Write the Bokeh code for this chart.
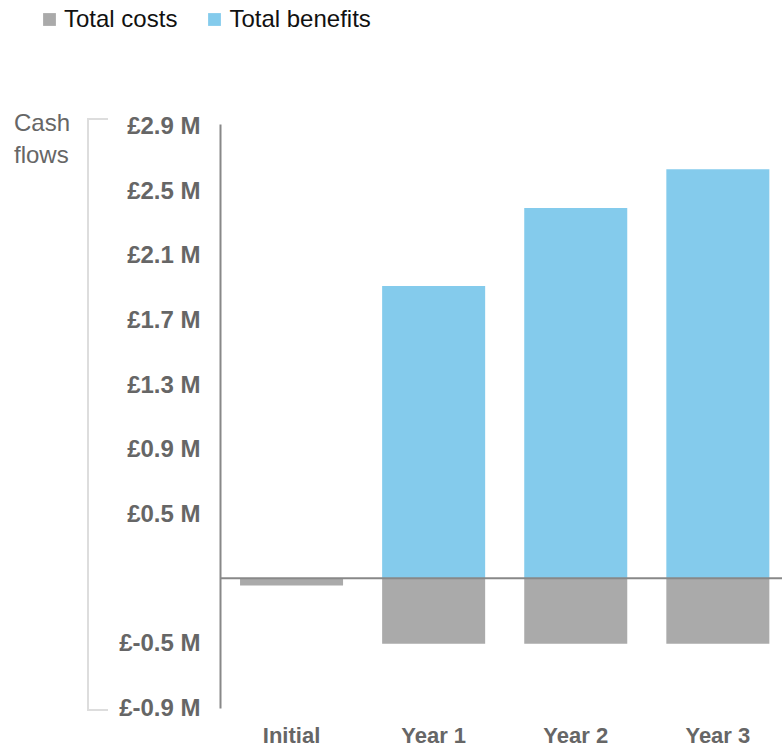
from bokeh.plotting import figure
from bokeh.layouts import column, row
from bokeh.models import (Range1d, FixedTicker, Span, Legend, LegendItem,
                          ColumnDataSource, Div)
from bokeh.embed import file_html
from bokeh.resources import INLINE

# ---- data ----
categories = ["Initial", "Year 1", "Year 2", "Year 3"]
total_costs = [-0.046, -0.415, -0.415, -0.415]
total_benefits = [0.0, 1.852, 2.346, 2.591]
y_tick_values = [-0.82, -0.41, 0.41, 0.82, 1.23, 1.64, 2.05, 2.46, 2.87]
y_tick_labels = ["£-0.9 M", "£-0.5 M", "£0.5 M", "£0.9 M", "£1.3 M",
                 "£1.7 M", "£2.1 M", "£2.5 M", "£2.9 M"]
series_names = ["Total costs", "Total benefits"]
axis_title_lines = ["Cash", "flows"]

# ---- styles ----
FONT = "Liberation Sans"
COST_COLOR = "#AAAAAA"
BEN_COLOR = "#84CBEC"
AXIS_GRAY = "#888888"
TEXT_GRAY = "#666666"
BRACKET_GRAY = "#DDDDDD"
BAR_W = 0.725

x_pos = [i + 0.5 for i in range(len(categories))]
source = ColumnDataSource(dict(x=x_pos, cat=categories,
                               costs=total_costs, benefits=total_benefits))

# ---------------- main chart ----------------
X_END = 3.955
Y_START, Y_END = -0.825, 2.875
p = figure(width=670, height=650,
           x_range=Range1d(0, X_END), y_range=Range1d(Y_START, Y_END),
           output_backend="svg", toolbar_location=None,
           min_border_left=108, min_border_right=0,
           min_border_top=24, min_border_bottom=42)
p.outline_line_color = None
p.grid.visible = False

r_cost = p.vbar(x="x", width=BAR_W, top=0, bottom="costs", source=source,
                fill_color=COST_COLOR, line_color=None)
r_ben = p.vbar(x="x", width=BAR_W, bottom=0, top="benefits", source=source,
               fill_color=BEN_COLOR, line_color=None)

p.add_layout(Span(location=0, dimension="width", line_color=AXIS_GRAY,
                  line_width=2))

ya = p.yaxis[0]
ya.ticker = FixedTicker(ticks=y_tick_values)
ya.major_label_overrides = {v: t for v, t in zip(y_tick_values, y_tick_labels)}
ya.axis_line_color = AXIS_GRAY
ya.axis_line_width = 2
ya.major_tick_line_color = None
ya.minor_tick_line_color = None
ya.major_tick_out = 0
ya.major_tick_in = 0
ya.major_label_standoff = 20
ya.major_label_text_font = FONT
ya.major_label_text_font_size = "24px"
ya.major_label_text_font_style = "bold"
ya.major_label_text_color = TEXT_GRAY

xa = p.xaxis[0]
xa.ticker = FixedTicker(ticks=x_pos)
xa.major_label_overrides = {v: c for v, c in zip(x_pos, categories)}
xa.axis_line_color = None
xa.major_tick_line_color = None
xa.minor_tick_line_color = None
xa.major_tick_out = 0
xa.major_tick_in = 0
xa.major_label_standoff = 14
xa.major_label_text_font = FONT
xa.major_label_text_font_size = "22px"
xa.major_label_text_font_style = "bold"
xa.major_label_text_color = TEXT_GRAY

# ---------------- left strip: axis title + bracket ----------------
left_html = (
    f'<div style="position:relative;width:112px;height:650px;'
    f'font-family:\'{FONT}\';">'
    f'<div style="position:absolute;left:14px;top:7px;font-size:24px;'
    f'line-height:32px;color:{TEXT_GRAY};white-space:nowrap;">'
    f'{axis_title_lines[0]}<br>{axis_title_lines[1]}</div>'
    f'<div style="position:absolute;left:87px;top:18.3px;width:21px;'
    f'height:592.7px;box-sizing:border-box;border:2px solid {BRACKET_GRAY};'
    f'border-right:none;"></div>'
    f'</div>'
)
left = Div(text=left_html, width=112, height=650, margin=0)

# ---------------- top strip: legend ----------------
top = figure(width=782, height=100, x_range=Range1d(100, 101),
             y_range=Range1d(100, 101), output_backend="svg",
             toolbar_location=None, x_axis_location=None,
             y_axis_location=None, min_border=0)
top.outline_line_color = None
top.grid.visible = False
lc = top.vbar(x="x", width=BAR_W, top=0, bottom="costs", source=source,
              fill_color=COST_COLOR, line_color=None)
lb = top.vbar(x="x", width=BAR_W, bottom=0, top="benefits", source=source,
              fill_color=BEN_COLOR, line_color=None)
legend = Legend(items=[LegendItem(label=series_names[0], renderers=[lc]),
                       LegendItem(label=series_names[1], renderers=[lb])],
                location=(41, 67), orientation="horizontal",
                glyph_width=16, glyph_height=16, label_standoff=7,
                spacing=29, padding=0, margin=0,
                border_line_color=None, background_fill_alpha=0,
                label_text_font=FONT, label_text_font_size="24px",
                label_text_color="#111111")
top.add_layout(legend)

layout = column(top, row(left, p, spacing=0), spacing=0)
open("out.html", "w").write(file_html(layout, INLINE))
